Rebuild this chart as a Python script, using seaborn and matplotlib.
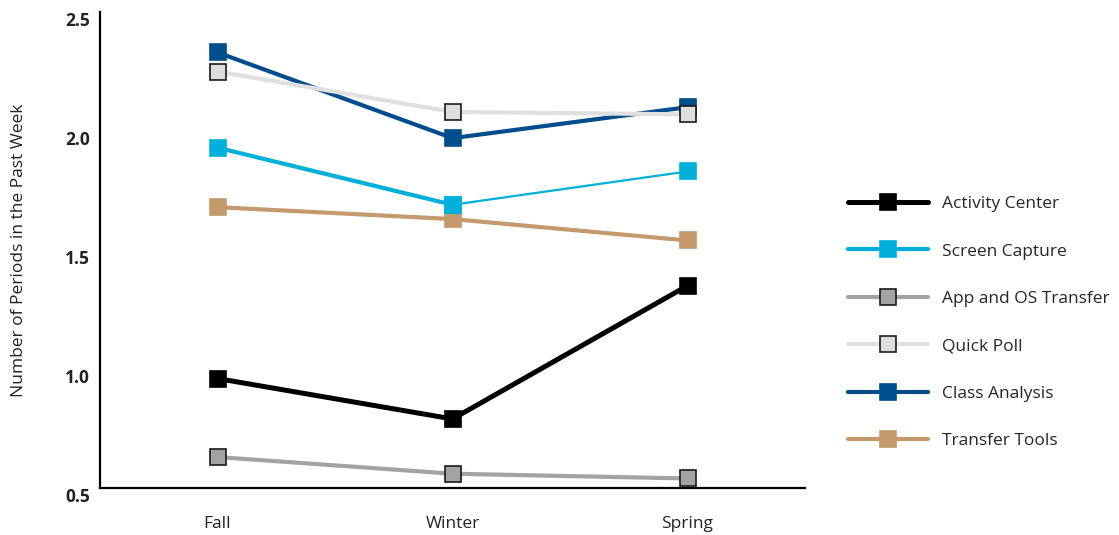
import numpy as np
import pandas as pd
import matplotlib
matplotlib.use("Agg")
import matplotlib.pyplot as plt
import matplotlib.transforms as mtransforms
import seaborn as sns

# ---- data ----
seasons = ["Fall", "Winter", "Spring"]
activity_center = [0.96, 0.79, 1.35]
screen_capture = [1.93, 1.69, 1.83]
app_os_transfer = [0.63, 0.56, 0.54]
quick_poll = [2.25, 2.08, 2.07]
class_analysis = [2.33, 1.97, 2.10]
transfer_tools = [1.68, 1.63, 1.54]
y_ticks = [0.5, 1.0, 1.5, 2.0, 2.5]
y_label = "Number of Periods in the Past Week"

sns.set_theme(style="white")
plt.rcParams["font.family"] = ["Open Sans", "DejaVu Sans"]

fig = plt.figure(figsize=(11.19, 5.35), dpi=100)
ax = fig.add_axes([100/1119, 1 - 488/535, 705/1119, (488-12)/535])

idx = np.arange(len(seasons))

series = [
    # name, values, line color, marker face, marker edge, lw, zorder
    ("Activity Center", activity_center, "#000000", "#000000", "#000000", 3.6, 6),
    ("Screen Capture", screen_capture, "#00B0DA", "#00B0DA", "#00B0DA", 3.0, 5),
    ("App and OS Transfer", app_os_transfer, "#A3A3A3", "#A3A3A3", "#1a1a1a", 3.0, 3),
    ("Quick Poll", quick_poll, "#E0E0E0", "#DEDEDE", "#1a1a1a", 3.0, 4),
    ("Class Analysis", class_analysis, "#004D8D", "#004D8D", "#004D8D", 3.0, 3.5),
    ("Transfer Tools", transfer_tools, "#C49A6C", "#C49A6C", "#C49A6C", 3.0, 2),
]

ms = 12
handles = []
for name, vals, lc, mf, me, lw, z in series:
    df = pd.DataFrame({"x": idx, "y": vals})
    if name == "Screen Capture":
        sub1 = df.iloc[:2]
        sub2 = df.iloc[1:]
        sns.lineplot(data=sub2, x="x", y="y", ax=ax, color=lc, lw=1.6,
                     marker="s", markersize=ms, markerfacecolor=mf,
                     markeredgecolor=me, markeredgewidth=1.2, zorder=z, legend=False)
        sns.lineplot(data=sub1, x="x", y="y", ax=ax, color=lc, lw=lw,
                     marker="s", markersize=ms, markerfacecolor=mf,
                     markeredgecolor=me, markeredgewidth=1.2, zorder=z, legend=False)
    else:
        sns.lineplot(data=df, x="x", y="y", ax=ax, color=lc, lw=lw,
                     marker="s", markersize=ms, markerfacecolor=mf,
                     markeredgecolor=me, markeredgewidth=1.2, zorder=z, legend=False)
    h = plt.Line2D([], [], color=lc, lw=lw, marker="s", markersize=ms,
                   markerfacecolor=mf, markeredgecolor=me, markeredgewidth=1.2,
                   solid_capstyle="round")
    handles.append((h, name))

ax.set_xlim(-0.5, len(seasons) - 0.5)
ax.set_ylim(y_ticks[0], y_ticks[-1])
ax.set_xticks(idx)
ax.set_xticklabels(seasons, fontsize=12.5, color="#222222")
ax.set_yticks(y_ticks)
ax.set_yticklabels([f"{v:.1f}" for v in y_ticks], fontsize=12.5, fontweight="bold", color="#222222")
ax.tick_params(axis="x", length=0, pad=20.5)
ax.tick_params(axis="y", length=0, pad=7)
off = mtransforms.ScaledTranslation(0, -7/100, fig.dpi_scale_trans)
for lab in ax.get_yticklabels():
    lab.set_transform(lab.get_transform() + off)

ax.set_xlabel("")
ax.set_ylabel(y_label, fontsize=12.5, color="#222222")
ax.yaxis.set_label_coords(-0.104, 0.5)

for s in ["top", "right"]:
    ax.spines[s].set_visible(False)
for s in ["left", "bottom"]:
    ax.spines[s].set_color("#000000")
    ax.spines[s].set_linewidth(1.6)

fig.legend([h for h, _ in handles], [n for _, n in handles],
           loc="upper left", bbox_to_anchor=(848/1119, 1 - 196/535),
           frameon=False, fontsize=12.5, handlelength=4.6, handletextpad=0.8,
           labelspacing=1.8, borderpad=0, borderaxespad=0)

fig.savefig("out.png", dpi=100, facecolor="white")
